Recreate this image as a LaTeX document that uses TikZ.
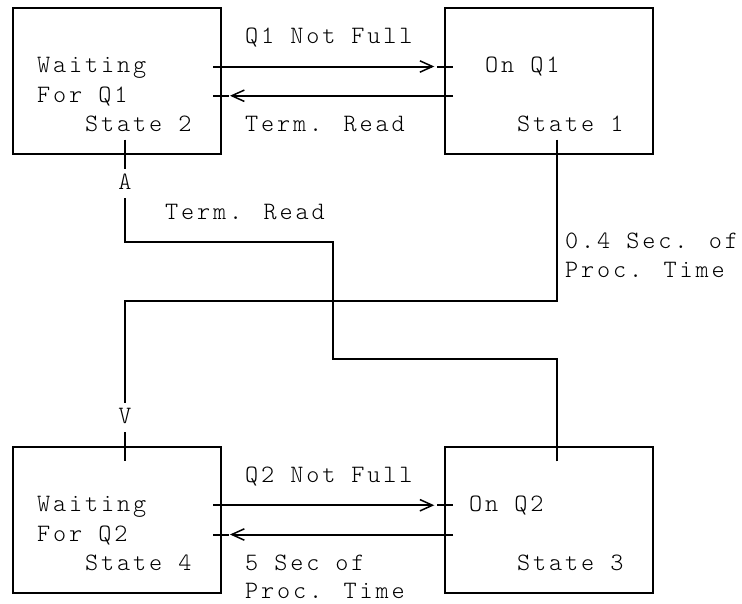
\documentclass[tikz,border=0pt]{standalone}
\usepackage{fontspec}
\newfontfamily\asc{lmmonolt10-regular.otf}[LetterSpace=11.5]
\usetikzlibrary{arrows.meta,calc}
\begin{document}
\begin{tikzpicture}[x=16pt,y=-29.25pt,
  box/.style={draw,line width=2pt,minimum width=208pt,minimum height=146.25pt,inner sep=0pt,outer sep=0pt},
  txt/.style={anchor=base west,inner sep=0pt,font=\asc\fontsize{25pt}{29pt}\selectfont},
  head/.style={anchor=base,inner sep=0pt,font=\asc\fontsize{25pt}{29pt}\selectfont},
  conn/.style={line width=2pt},
  barb/.style={-{Straight Barb[length=12.6pt,width=11.4pt,line width=1.5pt]}}]
\useasboundingbox (-0.8125,-0.2735) rectangle (45.5625,20.3419);
% states
\node[box] (s2) at (6.5,2.5) {};
\node[box] (s1) at (33.5,2.5) {};
\node[box] (s4) at (6.5,17.5) {};
\node[box] (s3) at (33.5,17.5) {};
% texts inside states
\node[txt] (s2a) at (1.5,2.222) {Waiting};
\node[txt] (s2b) at (1.5,3.222) {For Q1};
\node[txt] (s2c) at (4.5,4.222) {State 2};
\node[txt] (s1a) at (29.5,2.222) {On Q1};
\node[txt] (s1c) at (31.5,4.222) {State 1};
\node[txt] (s4a) at (1.5,17.222) {Waiting};
\node[txt] (s4b) at (1.5,18.222) {For Q2};
\node[txt] (s4c) at (4.5,19.222) {State 4};
\node[txt] (s3a) at (28.5,17.222) {On Q2};
\node[txt] (s3c) at (31.5,19.222) {State 3};
% connector labels
\node[txt] (l1) at (14.5,1.222) {Q1 Not Full};
\node[txt] (l2) at (14.5,4.222) {Term. Read};
\node[txt] (l3) at (9.5,7.222) {Term. Read};
\node[txt] (l4) at (34.5,8.222) {0.4 Sec. of};
\node[txt] (l5) at (34.5,9.222) {Proc. Time};
\node[txt] (l6) at (14.5,16.222) {Q2 Not Full};
\node[txt] (l7) at (14.5,19.222) {5 Sec of};
\node[txt] (l8) at (14.5,20.19) {Proc. Time};
% letter arrowheads
\node[head] (hA) at (7,6.222) {A};
\node[head] (hV) at (7,14.222) {V};
% Q1 Not Full : s2 -> s1
\draw[conn,barb] ($(s2.east)+(-0.5,-0.5)$) -- ($(s1.west)+(-0.67,-0.5)$);
\draw[conn] ($(s1.west)+(-0.5,-0.5)$) -- ($(s1.west)+(0.5,-0.5)$);
% Term. Read : s1 -> s2
\draw[conn,barb] ($(s1.west)+(0.5,0.5)$) -- ($(s2.east)+(0.56,0.5)$);
\draw[conn] ($(s2.east)+(-0.5,0.5)$) -- ($(s2.east)+(0.5,0.5)$);
% Q2 Not Full : s4 -> s3
\draw[conn,barb] ($(s4.east)+(-0.5,-0.5)$) -- ($(s3.west)+(-0.67,-0.5)$);
\draw[conn] ($(s3.west)+(-0.5,-0.5)$) -- ($(s3.west)+(0.5,-0.5)$);
% 5 Sec of Proc. Time : s3 -> s4
\draw[conn,barb] ($(s3.west)+(0.5,0.5)$) -- ($(s4.east)+(0.56,0.5)$);
\draw[conn] ($(s4.east)+(-0.5,0.5)$) -- ($(s4.east)+(0.5,0.5)$);
% Term. Read : s3 -> s2 (head A)
\draw[conn] ($(s3.north)+(0.5,0.5)$) |- (20,12) |- (7,8) -- ($(s2.south)+(0.5,1.5)$);
\draw[conn] ($(s2.south)+(0.5,-0.5)$) -- ($(s2.south)+(0.5,0.5)$);
% 0.4 Sec. of Proc. Time : s1 -> s4 (head V)
\draw[conn] ($(s1.south)+(0.5,-0.5)$) |- (7,10) -- ($(s4.north)+(0.5,-1.5)$);
\draw[conn] ($(s4.north)+(0.5,-0.5)$) -- ($(s4.north)+(0.5,0.5)$);
\end{tikzpicture}
\end{document}
